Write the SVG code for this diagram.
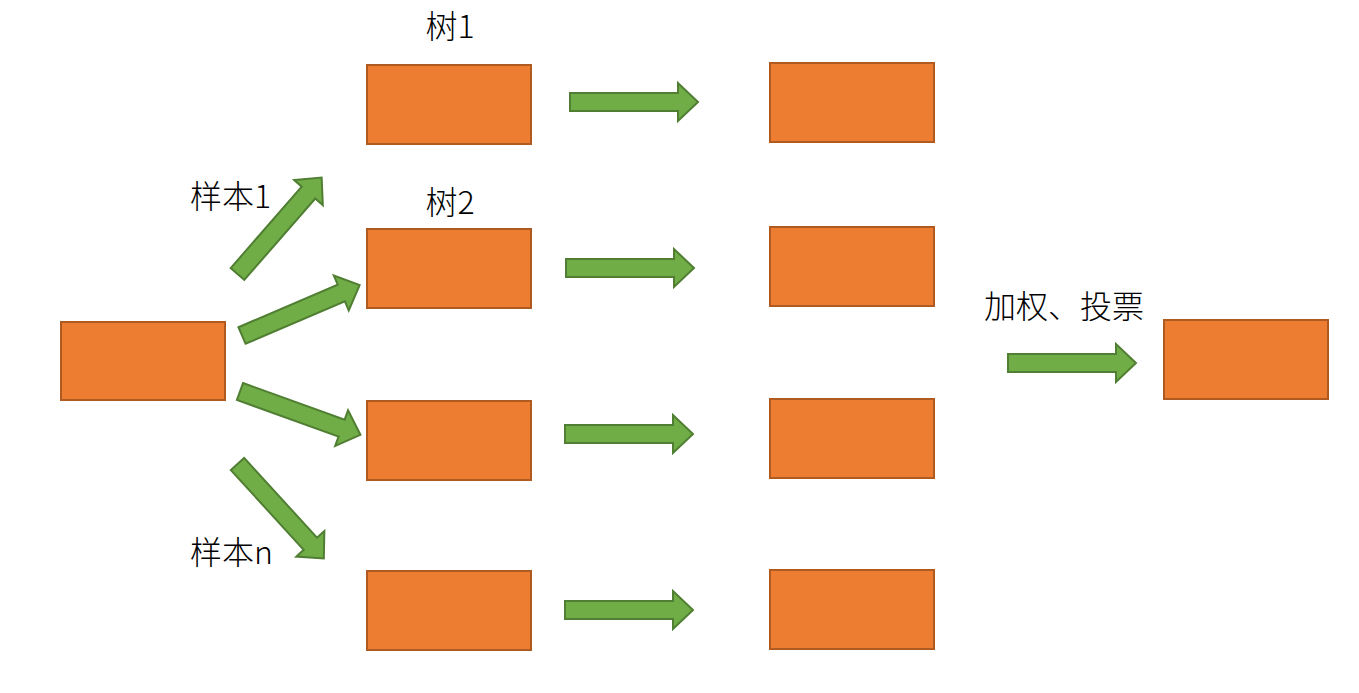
<svg xmlns="http://www.w3.org/2000/svg" width="1359" height="693" viewBox="0 0 1359 693">
<style>
.box{fill:#ED7D31;stroke:#AE5A21;stroke-width:2}
.arr{fill:#70AD47;stroke:#507E32;stroke-width:2;stroke-linejoin:miter}
.lbl{font-family:"Noto Sans CJK SC","Liberation Sans",sans-serif;font-size:32px;font-weight:300;fill:#000}
</style>
<defs>
<path id="arrow" d="M0,-9 L108,-9 L108,-19 L128,0 L108,19 L108,9 L0,9 Z"/>
</defs>
<rect width="1359" height="693" fill="#fff"/>
<g id="connectors">
<use href="#arrow" class="arr" transform="translate(237.5,274) rotate(-48.9)"/>
<use href="#arrow" class="arr" transform="translate(242,335.5) rotate(-23.2)"/>
<use href="#arrow" class="arr" transform="translate(240,391.5) rotate(19.8)"/>
<use href="#arrow" class="arr" transform="translate(237.5,464) rotate(47.6)"/>
<use href="#arrow" class="arr" transform="translate(570,102)"/>
<use href="#arrow" class="arr" transform="translate(566,268)"/>
<use href="#arrow" class="arr" transform="translate(565,434)"/>
<use href="#arrow" class="arr" transform="translate(565,610)"/>
<use href="#arrow" class="arr" transform="translate(1008,363)"/>
</g>
<g id="source"><rect class="box" x="61" y="322" width="164" height="78"/></g>
<g id="tree1"><rect class="box" x="367" y="65" width="164" height="79"/></g>
<g id="tree2"><rect class="box" x="367" y="229" width="164" height="79"/></g>
<g id="tree3"><rect class="box" x="367" y="401" width="164" height="79"/></g>
<g id="tree4"><rect class="box" x="367" y="571" width="164" height="79"/></g>
<g id="result1"><rect class="box" x="770" y="63" width="164" height="79"/></g>
<g id="result2"><rect class="box" x="770" y="227" width="164" height="79"/></g>
<g id="result3"><rect class="box" x="770" y="399" width="164" height="79"/></g>
<g id="result4"><rect class="box" x="770" y="570" width="164" height="79"/></g>
<g id="final"><rect class="box" x="1164" y="320" width="164" height="79"/></g>
<g id="labels">
<text class="lbl" x="450" y="38" text-anchor="middle">树1</text>
<text class="lbl" x="450" y="214" text-anchor="middle">树2</text>
<text class="lbl" x="190" y="208">样本1</text>
<text class="lbl" x="190" y="564">样本n</text>
<text class="lbl" x="1064" y="318" text-anchor="middle">加权、投票</text>
</g>
</svg>
